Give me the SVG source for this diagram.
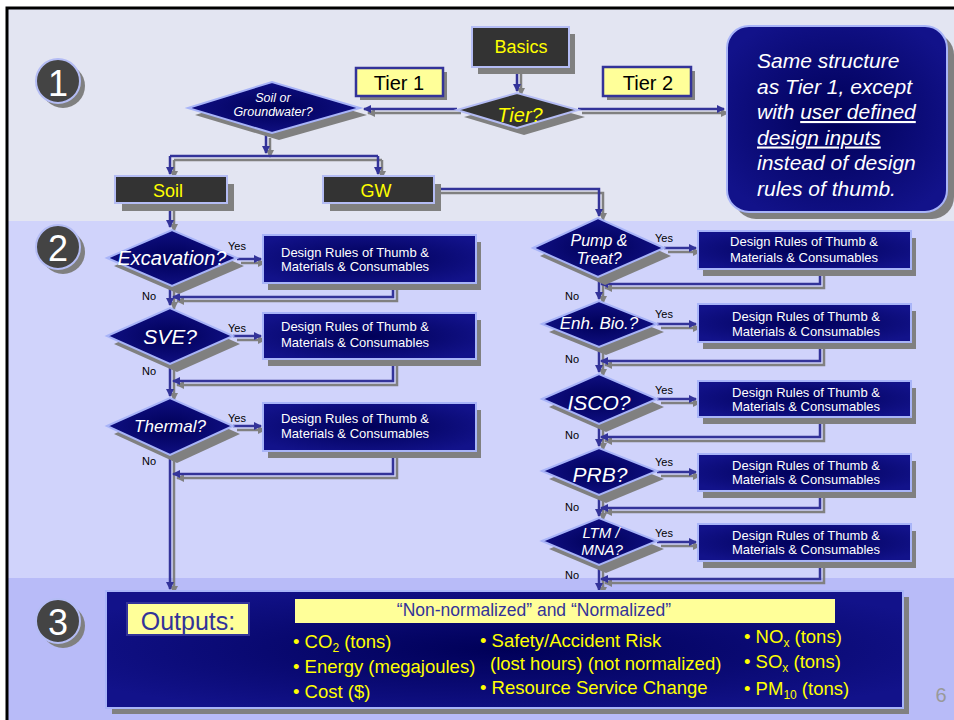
<svg xmlns="http://www.w3.org/2000/svg" width="954" height="720" viewBox="0 0 954 720">
<style>
text{font-family:"Liberation Sans",Arial,sans-serif}
.sh{fill:#808080}
.dk{fill:#333333;stroke:#b4bcf4;stroke-width:2}
.nv{fill:url(#nav);stroke:#a8b4f8;stroke-width:2}
.yb{fill:#ffff99;stroke:#333399;stroke-width:2.5}
.dt{fill:#ffffff;font-size:13px}
.qt{fill:#ffffff;font-style:italic;text-anchor:middle}
.yn{fill:#000000;font-size:11px}
.bl{fill:#ffff00;font-size:18px}
.cb{fill:none;stroke:#333399;stroke-width:2.5;marker-end:url(#ab)}
.cs{fill:none;stroke:#808080;stroke-width:2.5;marker-end:url(#ag)}
.num{fill:#ffffff;font-size:36px;text-anchor:middle}
</style>
<defs>
<radialGradient id="nav" cx="50%" cy="50%" r="60%">
<stop offset="0" stop-color="#000058"/>
<stop offset="1" stop-color="#12128a"/>
</radialGradient>
<marker id="ab" viewBox="0 0 8 8" refX="7" refY="4" markerWidth="8" markerHeight="8" markerUnits="userSpaceOnUse" orient="auto"><path d="M0,0 L8,4 L0,8 z" fill="#333399"/></marker>
<marker id="ag" viewBox="0 0 8 8" refX="7" refY="4" markerWidth="8" markerHeight="8" markerUnits="userSpaceOnUse" orient="auto"><path d="M0,0 L8,4 L0,8 z" fill="#808080"/></marker>
</defs>

<!-- background -->
<rect x="0" y="0" width="954" height="720" fill="#ffffff"/>
<rect x="8" y="9" width="946" height="212" fill="#e3e5f2"/>
<rect x="8" y="221" width="946" height="357" fill="#d0d3fb"/>
<rect x="8" y="578" width="946" height="142" fill="#b8bbf8"/>
<path d="M7,720 V8 H954" fill="none" stroke="#000000" stroke-width="3"/>

<!-- section numbers -->
<g id="num1"><circle cx="63" cy="86" r="22" class="sh"/><circle cx="58" cy="81" r="22" fill="#444444" stroke="#b4bcf4" stroke-width="2"/><text x="58" y="96" class="num">1</text></g>
<g id="num2"><circle cx="63" cy="252" r="22" class="sh"/><circle cx="58" cy="247" r="22" fill="#444444" stroke="#b4bcf4" stroke-width="2"/><text x="58" y="261" class="num">2</text></g>
<g id="num3"><circle cx="63" cy="626" r="22" class="sh"/><circle cx="58" cy="621" r="22" fill="#444444" stroke="#b4bcf4" stroke-width="2"/><text x="58" y="635" class="num">3</text></g>

<!-- connectors -->
<g id="connectors">
<g transform="translate(4,4)">
<path class="cs" d="M517,67 V91"/>
<path class="cs" d="M457,109 H364"/>
<path class="cs" d="M578,109 H724"/>
<path class="cs" d="M266,134 V153"/>
<path class="cs" d="M170,156 H378" style="marker-end:none"/>
<path class="cs" d="M170,156 V174"/>
<path class="cs" d="M378,156 V174"/>
<path class="cs" d="M170,203 V227"/>
<path class="cs" d="M434,189 H599 V216"/>
<path class="cs" d="M237,259 H261"/>
<path class="cs" d="M393,283 V297 H173"/>
<path class="cs" d="M170,286 V305"/>
<path class="cs" d="M233,336 H261"/>
<path class="cs" d="M393,359 V381 H173"/>
<path class="cs" d="M170,364 V396"/>
<path class="cs" d="M233,426 H261"/>
<path class="cs" d="M393,451 V474 H173"/>
<path class="cs" d="M170,455 V589"/>
<path class="cs" d="M664,248 H696"/>
<path class="cs" d="M820,269 V284 H601"/>
<path class="cs" d="M599,277 V299"/>
<path class="cs" d="M657,324 H696"/>
<path class="cs" d="M820,342 V361 H601"/>
<path class="cs" d="M599,347 V372"/>
<path class="cs" d="M657,399 H696"/>
<path class="cs" d="M820,417 V437 H601"/>
<path class="cs" d="M599,424 V446"/>
<path class="cs" d="M657,472 H696"/>
<path class="cs" d="M820,491 V508 H601"/>
<path class="cs" d="M599,495 V516"/>
<path class="cs" d="M657,542 H696"/>
<path class="cs" d="M820,561 V579 H601"/>
<path class="cs" d="M599,565 V590"/>
</g>
<g>
<path class="cb" d="M517,67 V91"/>
<path class="cb" d="M457,109 H364"/>
<path class="cb" d="M578,109 H724"/>
<path class="cb" d="M266,134 V153"/>
<path class="cb" d="M170,156 H378" style="marker-end:none"/>
<path class="cb" d="M170,156 V174"/>
<path class="cb" d="M378,156 V174"/>
<path class="cb" d="M170,203 V227"/>
<path class="cb" d="M434,189 H599 V216"/>
<path class="cb" d="M237,259 H261"/>
<path class="cb" d="M393,283 V297 H173"/>
<path class="cb" d="M170,286 V305"/>
<path class="cb" d="M233,336 H261"/>
<path class="cb" d="M393,359 V381 H173"/>
<path class="cb" d="M170,364 V396"/>
<path class="cb" d="M233,426 H261"/>
<path class="cb" d="M393,451 V474 H173"/>
<path class="cb" d="M170,455 V589"/>
<path class="cb" d="M664,248 H696"/>
<path class="cb" d="M820,269 V284 H601"/>
<path class="cb" d="M599,277 V299"/>
<path class="cb" d="M657,324 H696"/>
<path class="cb" d="M820,342 V361 H601"/>
<path class="cb" d="M599,347 V372"/>
<path class="cb" d="M657,399 H696"/>
<path class="cb" d="M820,417 V437 H601"/>
<path class="cb" d="M599,424 V446"/>
<path class="cb" d="M657,472 H696"/>
<path class="cb" d="M820,491 V508 H601"/>
<path class="cb" d="M599,495 V516"/>
<path class="cb" d="M657,542 H696"/>
<path class="cb" d="M820,561 V579 H601"/>
<path class="cb" d="M599,565 V590"/>
</g>
</g>

<!-- Tier 1 -->
<g id="basics"><rect x="478" y="34" width="97" height="40" class="sh"/><rect x="472" y="27" width="97" height="40" class="dk"/><text x="521" y="53" class="bl" text-anchor="middle">Basics</text></g>
<g id="tier1"><rect x="360" y="72" width="87" height="28" class="sh"/><rect x="356" y="68" width="87" height="28" class="yb"/><text x="399" y="90" font-size="20" text-anchor="middle" fill="#000">Tier 1</text></g>
<g id="tier2"><rect x="607" y="71" width="88" height="29" class="sh"/><rect x="603" y="67" width="88" height="29" class="yb"/><text x="648" y="90" font-size="20" text-anchor="middle" fill="#000">Tier 2</text></g>
<g id="tierq"><polygon points="464,117 524,100 585,117 524,135" class="sh"/><polygon points="457,110 517,93 578,110 517,128" class="dk"/><text x="520" y="122" font-size="20" font-style="italic" fill="#ffff00" text-anchor="middle">Tier?</text></g>
<g id="soilgw"><polygon points="195,115 279,89 367,115 279,140" class="sh"/><polygon points="188,108 272,82 360,108 272,133" class="nv"/><text x="273" y="102" font-size="12.5" class="qt">Soil or</text><text x="273" y="116" font-size="12.5" class="qt">Groundwater?</text></g>
<g id="soil"><rect x="122" y="184" width="112" height="27" class="sh"/><rect x="115" y="176" width="112" height="27" class="dk"/><text x="168" y="197" class="bl" font-size="20" text-anchor="middle">Soil</text></g>
<g id="gw"><rect x="330" y="184" width="111" height="27" class="sh"/><rect x="323" y="176" width="111" height="27" class="dk"/><text x="376" y="197" class="bl" font-size="20" text-anchor="middle">GW</text></g>
<g id="callout"><rect x="734" y="33" width="220" height="186" rx="22" class="sh"/><rect x="727" y="26" width="220" height="186" rx="22" class="nv"/>
<text fill="#ffffff" font-size="21" font-style="italic"><tspan x="757" y="68">Same structure</tspan><tspan x="757" y="93.5">as Tier 1, except</tspan><tspan x="757" y="119">with <tspan text-decoration="underline">user defined</tspan></tspan><tspan x="757" y="144.5" text-decoration="underline">design inputs</tspan><tspan x="757" y="170">instead of design</tspan><tspan x="757" y="195.5">rules of thumb.</tspan></text></g>

<!-- Soil column -->
<g id="excavation"><polygon points="114,266 179,238 244,266 179,294" class="sh"/><polygon points="107,258 172,230 237,258 172,286" class="nv"/><text x="172" y="265" font-size="20" class="qt">Excavation?</text><text x="228" y="250" class="yn">Yes</text><text x="142" y="300" class="yn">No</text></g>
<g id="soilbox1"><rect x="268" y="242" width="213" height="48" class="sh"/><rect x="263" y="235" width="213" height="48" class="nv"/><text class="dt"><tspan x="281" y="257">Design Rules of Thumb &amp;</tspan><tspan x="281" y="271">Materials &amp; Consumables</tspan></text></g>
<g id="sve"><polygon points="114,344 177,316 240,344 177,372" class="sh"/><polygon points="107,336 170,308 233,336 170,364" class="nv"/><text x="170" y="344" font-size="21" class="qt">SVE?</text><text x="228" y="332" class="yn">Yes</text><text x="142" y="375" class="yn">No</text></g>
<g id="soilbox2"><rect x="268" y="320" width="213" height="46" class="sh"/><rect x="263" y="313" width="213" height="46" class="nv"/><text class="dt"><tspan x="281" y="331">Design Rules of Thumb &amp;</tspan><tspan x="281" y="347">Materials &amp; Consumables</tspan></text></g>
<g id="thermal"><polygon points="114,434 177,406 240,434 177,463" class="sh"/><polygon points="107,426 170,398 233,426 170,455" class="nv"/><text x="170" y="432" font-size="17" class="qt">Thermal?</text><text x="228" y="422" class="yn">Yes</text><text x="142" y="465" class="yn">No</text></g>
<g id="soilbox3"><rect x="268" y="410" width="213" height="48" class="sh"/><rect x="263" y="403" width="213" height="48" class="nv"/><text class="dt"><tspan x="281" y="423">Design Rules of Thumb &amp;</tspan><tspan x="281" y="438">Materials &amp; Consumables</tspan></text></g>

<!-- GW column -->
<g id="pump"><polygon points="540,256 605,226 671,256 605,285" class="sh"/><polygon points="533,248 598,218 664,248 598,277" class="nv"/><text x="599" y="246" font-size="16" class="qt">Pump &amp;</text><text x="599" y="264" font-size="16" class="qt">Treat?</text><text x="655" y="242" class="yn">Yes</text><text x="565" y="300" class="yn">No</text></g>
<g id="gwbox1"><rect x="703" y="238" width="213" height="38" class="sh"/><rect x="698" y="231" width="213" height="38" class="nv"/><text class="dt" text-anchor="middle"><tspan x="804" y="246">Design Rules of Thumb &amp;</tspan><tspan x="804" y="262">Materials &amp; Consumables</tspan></text></g>
<g id="enhbio"><polygon points="549,332 606,309 664,332 606,355" class="sh"/><polygon points="542,324 599,301 657,324 599,347" class="nv"/><text x="599" y="329" font-size="17" class="qt">Enh. Bio.?</text><text x="655" y="318" class="yn">Yes</text><text x="565" y="363" class="yn">No</text></g>
<g id="gwbox2"><rect x="703" y="311" width="213" height="38" class="sh"/><rect x="698" y="304" width="213" height="38" class="nv"/><text class="dt" text-anchor="middle"><tspan x="806" y="321">Design Rules of Thumb &amp;</tspan><tspan x="806" y="336">Materials &amp; Consumables</tspan></text></g>
<g id="isco"><polygon points="549,407 606,382 664,407 606,432" class="sh"/><polygon points="542,399 599,374 657,399 599,424" class="nv"/><text x="599" y="410" font-size="21" class="qt">ISCO?</text><text x="655" y="394" class="yn">Yes</text><text x="565" y="439" class="yn">No</text></g>
<g id="gwbox3"><rect x="703" y="388" width="213" height="36" class="sh"/><rect x="698" y="381" width="213" height="36" class="nv"/><text class="dt" text-anchor="middle"><tspan x="806" y="397">Design Rules of Thumb &amp;</tspan><tspan x="806" y="411">Materials &amp; Consumables</tspan></text></g>
<g id="prb"><polygon points="549,479 606,456 664,479 606,503" class="sh"/><polygon points="542,471 599,448 657,471 599,495" class="nv"/><text x="600" y="482" font-size="21" class="qt">PRB?</text><text x="655" y="466" class="yn">Yes</text><text x="565" y="511" class="yn">No</text></g>
<g id="gwbox4"><rect x="703" y="461" width="213" height="37" class="sh"/><rect x="698" y="454" width="213" height="37" class="nv"/><text class="dt" text-anchor="middle"><tspan x="806" y="470">Design Rules of Thumb &amp;</tspan><tspan x="806" y="484">Materials &amp; Consumables</tspan></text></g>
<g id="ltm"><polygon points="549,549 606,526 664,549 606,573" class="sh"/><polygon points="542,541 599,518 657,541 599,565" class="nv"/><text x="601" y="538" font-size="15" class="qt">LTM /</text><text x="602" y="555" font-size="15" class="qt">MNA?</text><text x="655" y="537" class="yn">Yes</text><text x="565" y="579" class="yn">No</text></g>
<g id="gwbox5"><rect x="703" y="531" width="213" height="37" class="sh"/><rect x="698" y="524" width="213" height="37" class="nv"/><text class="dt" text-anchor="middle"><tspan x="806" y="540">Design Rules of Thumb &amp;</tspan><tspan x="806" y="554">Materials &amp; Consumables</tspan></text></g>

<!-- Outputs -->
<g id="outputs">
<rect x="112" y="597" width="797" height="117" class="sh"/>
<rect x="106" y="591" width="797" height="117" class="nv"/>
<rect x="127" y="603" width="122" height="32" fill="#ffff99" stroke="#333399" stroke-width="2"/>
<text x="188" y="630" font-size="25" fill="#333399" text-anchor="middle">Outputs:</text>
<rect x="295" y="599" width="540" height="24" fill="#ffff99"/>
<text x="534" y="616" font-size="17.5" fill="#333399" text-anchor="middle">“Non-normalized” and “Normalized”</text>
<g fill="#ffff00" font-size="18.5">
<text x="293" y="648">• CO<tspan font-size="12" dy="4">2</tspan><tspan dy="-4"> (tons)</tspan></text>
<text x="293" y="673">• Energy (megajoules)</text>
<text x="293" y="698">• Cost ($)</text>
<text x="480" y="647">• Safety/Accident Risk</text>
<text x="490" y="670">(lost hours) (not normalized)</text>
<text x="480" y="694">• Resource Service Change</text>
<text x="744" y="643">• NO<tspan font-size="12" dy="4">x</tspan><tspan dy="-4"> (tons)</tspan></text>
<text x="744" y="668">• SO<tspan font-size="12" dy="4">x</tspan><tspan dy="-4"> (tons)</tspan></text>
<text x="744" y="695">• PM<tspan font-size="12" dy="4">10</tspan><tspan dy="-4"> (tons)</tspan></text>
</g>
</g>
<text x="941" y="702" font-size="20" fill="#999999" text-anchor="middle">6</text>
</svg>
